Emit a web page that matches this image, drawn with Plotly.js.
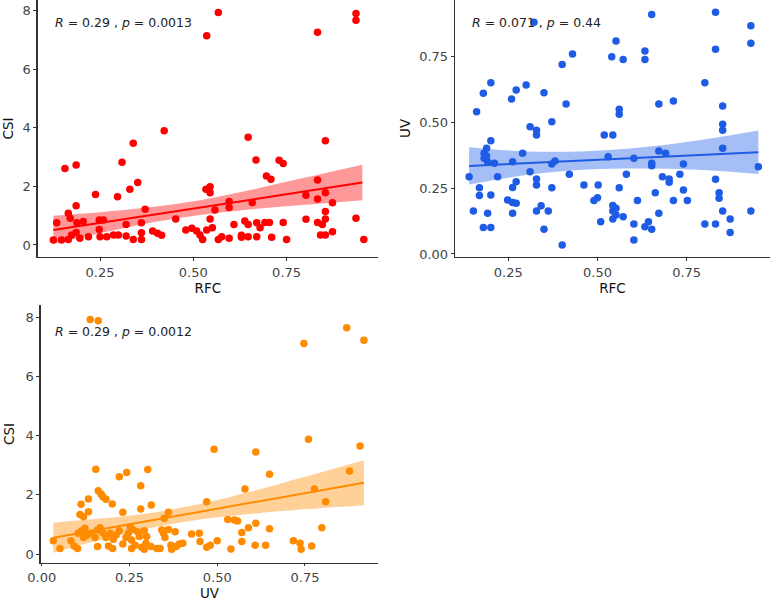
<!DOCTYPE html>
<html>
<head>
<meta charset="utf-8">
<script src="https://cdn.plot.ly/plotly-3.0.1.min.js"></script>
<style>html,body{margin:0;padding:0;background:#fff;}#chart{width:775px;height:601px;}</style>
</head>
<body>
<div id="chart"></div>
<script>
// Panel 1: RFC vs CSI
const p1x = [0.567,0.536,0.936,0.936,0.833,0.422,0.339,0.647,0.854,0.309,
  0.156,0.186,0.668,0.730,0.741,0.696,0.708,0.833,0.238,0.297,
  0.330,0.351,0.534,0.545,0.545,0.186,0.371,0.558,0.596,0.596,
  0.658,0.802,0.833,0.854,0.854,0.873,0.165,0.170,0.134,0.188,
  0.205,0.248,0.259,0.248,0.320,0.361,0.453,0.545,0.609,0.638,
  0.647,0.670,0.692,0.704,0.741,0.802,0.833,0.846,0.854,0.936,
  0.480,0.496,0.509,0.518,0.536,0.551,0.391,0.404,0.415,0.186,
  0.174,0.219,0.268,0.250,0.286,0.299,0.320,0.361,0.361,0.339,
  0.125,0.147,0.165,0.196,0.525,0.567,0.576,0.596,0.629,0.629,
  0.647,0.670,0.679,0.710,0.750,0.841,0.854,0.873,0.957];
const p1y = [7.93,7.14,7.90,7.67,7.26,3.90,3.47,3.68,3.56,2.82,
  2.61,2.73,2.90,2.89,2.78,2.35,2.24,2.22,1.72,1.65,
  1.90,2.13,1.90,1.99,1.78,1.34,1.22,1.19,1.48,1.28,
  1.45,1.70,1.57,1.78,1.14,1.44,1.08,0.91,0.76,0.76,
  0.80,0.85,0.85,0.53,0.70,0.76,0.89,0.89,0.70,0.82,
  0.70,0.76,0.77,0.77,0.77,0.88,0.77,0.70,0.89,0.91,
  0.51,0.57,0.48,0.34,0.51,0.59,0.48,0.40,0.33,0.43,
  0.34,0.28,0.28,0.28,0.34,0.34,0.31,0.42,0.19,0.19,
  0.17,0.17,0.19,0.23,0.19,0.19,0.28,0.23,0.33,0.26,
  0.28,0.28,0.59,0.26,0.19,0.34,0.34,0.45,0.19];
const fit1x = [0.125,0.953];
const fit1y = [0.51,2.13];
const band1x = [0.125,0.25,0.40,0.50,0.65,0.80,0.953];
const band1lo = [0.04,0.40,0.79,0.99,1.21,1.37,1.53];
const band1hi = [1.00,1.12,1.31,1.49,1.87,2.30,2.74];

// Panel 2: RFC vs UV
const p2x = [0.140,0.152,0.161,0.169,0.169,0.180,0.180,0.182,0.182,0.189,
  0.189,0.192,0.192,0.201,0.201,0.201,0.201,0.211,0.220,0.248,
  0.259,0.262,0.262,0.262,0.262,0.272,0.272,0.272,0.290,0.300,
  0.311,0.311,0.322,0.329,0.329,0.329,0.329,0.329,0.342,0.350,
  0.350,0.362,0.372,0.372,0.372,0.381,0.401,0.401,0.412,0.421,
  0.430,0.462,0.490,0.500,0.502,0.509,0.519,0.530,0.540,0.543,
  0.543,0.543,0.543,0.552,0.552,0.552,0.561,0.561,0.561,0.572,
  0.572,0.581,0.602,0.602,0.602,0.612,0.633,0.633,0.633,0.643,
  0.652,0.652,0.652,0.652,0.662,0.672,0.672,0.672,0.682,0.691,
  0.701,0.701,0.713,0.713,0.731,0.741,0.741,0.752,0.801,0.801,
  0.831,0.831,0.831,0.831,0.841,0.841,0.851,0.851,0.851,0.851,
  0.851,0.872,0.872,0.930,0.930,0.930,0.951];
const p2y = [0.294,0.163,0.541,0.252,0.222,0.611,0.101,0.383,0.364,0.402,
  0.373,0.351,0.155,0.651,0.431,0.224,0.101,0.345,0.294,0.205,
  0.589,0.351,0.253,0.155,0.196,0.624,0.275,0.193,0.383,0.643,
  0.484,0.313,0.881,0.471,0.452,0.285,0.262,0.163,0.183,0.613,
  0.094,0.163,0.503,0.342,0.252,0.354,0.034,0.721,0.570,0.303,
  0.760,0.262,0.203,0.214,0.262,0.123,0.452,0.370,0.750,0.452,
  0.184,0.163,0.133,0.810,0.174,0.148,0.550,0.531,0.252,0.740,
  0.142,0.303,0.114,0.053,0.364,0.203,0.772,0.740,0.104,0.123,
  0.911,0.345,0.336,0.094,0.233,0.570,0.392,0.155,0.294,0.383,
  0.285,0.273,0.582,0.203,0.303,0.342,0.243,0.203,0.651,0.114,
  0.919,0.779,0.284,0.114,0.233,0.212,0.563,0.493,0.471,0.402,
  0.163,0.133,0.082,0.868,0.801,0.163,0.332];
const fit2x = [0.14,0.951];
const fit2y = [0.335,0.387];
const band2x = [0.14,0.30,0.47,0.62,0.78,0.951];
const band2lo = [0.264,0.300,0.321,0.325,0.320,0.304];
const band2hi = [0.406,0.390,0.391,0.405,0.432,0.470];

// Panel 3: UV vs CSI
const p3x = [0.138,0.161,0.869,0.918,0.747,0.760,0.907,0.491,0.610,0.154,
  0.302,0.242,0.221,0.282,0.649,0.877,0.579,0.777,0.161,0.169,
  0.174,0.183,0.133,0.112,0.201,0.312,0.470,0.809,0.282,0.109,
  0.119,0.133,0.231,0.361,0.349,0.530,0.549,0.558,0.610,0.589,
  0.570,0.649,0.798,0.570,0.033,0.052,0.083,0.092,0.102,0.104,
  0.114,0.123,0.119,0.130,0.142,0.152,0.159,0.159,0.166,0.174,
  0.183,0.190,0.195,0.202,0.204,0.212,0.221,0.231,0.240,0.247,
  0.252,0.259,0.256,0.256,0.266,0.273,0.278,0.285,0.292,0.292,
  0.297,0.299,0.311,0.328,0.337,0.342,0.347,0.351,0.361,0.368,
  0.370,0.380,0.383,0.392,0.402,0.427,0.449,0.451,0.470,0.480,
  0.500,0.539,0.608,0.638,0.717,0.736,0.739,0.769];
const p3y = [7.93,7.89,7.65,7.23,7.12,3.88,3.65,3.54,3.45,2.87,
  2.86,2.76,2.61,2.31,2.70,2.81,2.20,2.20,2.14,2.03,
  1.94,1.85,1.86,1.68,1.69,1.66,1.77,1.77,1.52,1.34,
  1.26,1.43,1.41,1.41,1.21,1.17,1.15,1.12,1.04,0.89,
  0.73,0.85,0.89,0.42,0.45,0.19,0.45,0.27,0.19,0.70,
  0.79,0.87,0.56,0.64,0.70,0.56,0.81,0.25,0.89,0.72,
  0.56,0.27,0.70,0.19,0.50,0.64,0.79,0.34,0.56,0.70,
  0.92,0.83,0.47,0.19,0.30,0.75,0.59,0.23,0.79,0.16,
  0.36,0.59,0.25,0.19,0.19,0.81,0.70,0.56,0.83,0.30,
  0.16,0.75,0.25,0.34,0.36,0.68,0.70,0.42,0.23,0.30,
  0.45,0.17,0.30,0.30,0.45,0.36,0.16,0.27];
const fit3x = [0.033,0.918];
const fit3y = [0.55,2.41];
const band3x = [0.033,0.15,0.30,0.45,0.60,0.75,0.918];
const band3lo = [0.04,0.42,0.85,1.17,1.36,1.51,1.65];
const band3hi = [1.06,1.18,1.37,1.69,2.12,2.61,3.17];

const statLabels = ["<i>R</i> = 0.29 , <i>p</i> = 0.0013",
                    "<i>R</i> = 0.071 , <i>p</i> = 0.44",
                    "<i>R</i> = 0.29 , <i>p</i> = 0.0012"];
const xTitles = ["RFC","RFC","UV"];
const yTitles = ["CSI","UV","CSI"];
const tickVals01 = [0,0.25,0.5,0.75];
const tickText01 = ["0.00","0.25","0.50","0.75"];
const tickValsCSI = [0,2,4,6,8];
const tickTextCSI = ["0","2","4","6","8"];

const colors = ["#ff0000","#1f5ce5","#ff8c00"];
const bandColors = ["rgba(255,0,0,0.4)","rgba(31,92,229,0.4)","rgba(255,140,0,0.4)"];

const panels = [
  {x:p1x,y:p1y,fx:fit1x,fy:fit1y,bx:band1x,blo:band1lo,bhi:band1hi,xa:"x",ya:"y"},
  {x:p2x,y:p2y,fx:fit2x,fy:fit2y,bx:band2x,blo:band2lo,bhi:band2hi,xa:"x2",ya:"y2"},
  {x:p3x,y:p3y,fx:fit3x,fy:fit3y,bx:band3x,blo:band3lo,bhi:band3hi,xa:"x3",ya:"y3"}
];

const data = [];
panels.forEach((p,i)=>{
  data.push({type:"scatter",mode:"lines",x:p.bx,y:p.blo,xaxis:p.xa,yaxis:p.ya,
    line:{width:0,shape:"spline",color:bandColors[i]},hoverinfo:"skip",showlegend:false});
  data.push({type:"scatter",mode:"lines",x:p.bx,y:p.bhi,xaxis:p.xa,yaxis:p.ya,fill:"tonexty",
    fillcolor:bandColors[i],line:{width:0,shape:"spline",color:bandColors[i]},hoverinfo:"skip",showlegend:false});
  data.push({type:"scatter",mode:"markers",x:p.x,y:p.y,xaxis:p.xa,yaxis:p.ya,
    marker:{color:colors[i],size:7.5,line:{width:0}},showlegend:false});
  data.push({type:"scatter",mode:"lines",x:p.fx,y:p.fy,xaxis:p.xa,yaxis:p.ya,
    line:{color:colors[i],width:2},showlegend:false});
});

const tickFont = {family:"DejaVu Sans, Arial, sans-serif",size:13,color:"#444"};
const titleFont = {family:"DejaVu Sans, Arial, sans-serif",size:13.5,color:"#111"};
function ax(anchor,domain,range,tv,tt,title,standoff,ticklen){
  return {anchor:anchor,domain:domain,range:range,tickmode:"array",tickvals:tv,ticktext:tt,
    showline:true,linecolor:"#333",linewidth:1.3,ticks:"outside",ticklen:ticklen||3,tickwidth:1,tickcolor:"#333",
    showgrid:false,zeroline:false,tickfont:tickFont,automargin:false,fixedrange:true,
    title:{text:title,font:titleFont,standoff:standoff}};
}

const W=775,H=601;
const layout = {
  width:W,height:H,margin:{l:0,r:0,t:0,b:0},paper_bgcolor:"#fff",plot_bgcolor:"#fff",
  showlegend:false,
  xaxis: ax("y",[37.7/W,378/W],[0.083,0.995],tickVals01,tickText01,xTitles[0],1),
  yaxis: ax("x",[1-257/H,1],[-0.41,8.36],tickValsCSI,tickTextCSI,yTitles[0],7),
  xaxis2: ax("y2",[455/W,770/W],[0.1005,0.9837],tickVals01,tickText01,xTitles[1],1),
  yaxis2: ax("x2",[1-256.7/H,1],[-0.0103,0.9658],tickVals01,tickText01,yTitles[1],5),
  xaxis3: ax("y3",[40.7/W,378.3/W],[-0.003,0.959],tickVals01,tickText01,xTitles[2],2,2),
  yaxis3: ax("x3",[1-563/H,1-305/H],[-0.304,8.42],tickValsCSI,tickTextCSI,yTitles[2],7),
  annotations:[
    {xref:"paper",yref:"paper",x:53/W,y:1-22.7/H,xanchor:"left",yanchor:"middle",showarrow:false,
      text:statLabels[0],font:{family:"DejaVu Sans, Arial, sans-serif",size:12.5,color:"#222"}},
    {xref:"paper",yref:"paper",x:470/W,y:1-22.7/H,xanchor:"left",yanchor:"middle",showarrow:false,
      text:statLabels[1],font:{family:"DejaVu Sans, Arial, sans-serif",size:12.5,color:"#222"}},
    {xref:"paper",yref:"paper",x:53/W,y:1-331/H,xanchor:"left",yanchor:"middle",showarrow:false,
      text:statLabels[2],font:{family:"DejaVu Sans, Arial, sans-serif",size:12.5,color:"#222"}}
  ]
};
Plotly.newPlot("chart",data,layout,{staticPlot:true,displayModeBar:false});
</script>
</body>
</html>
